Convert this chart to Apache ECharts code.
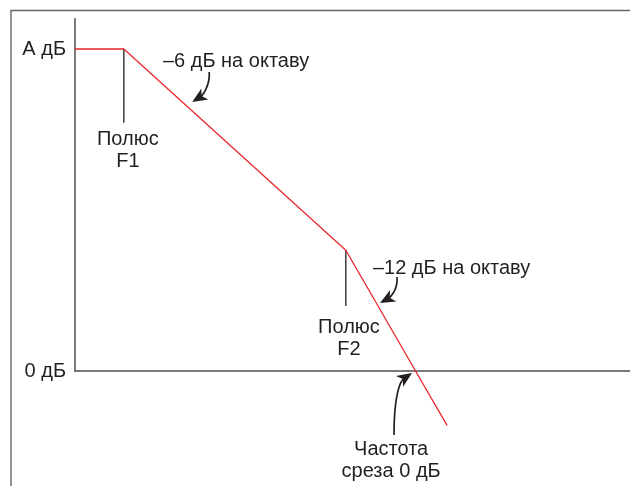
<!DOCTYPE html>
<html>
<head>
<meta charset="utf-8">
<script src="https://cdn.jsdelivr.net/npm/echarts@6/dist/echarts.min.js"></script>
<style>
  html, body { margin: 0; padding: 0; background: #fff; }
  #chart { width: 630px; height: 486px; }
</style>
</head>
<body>
<div id="chart"></div>
<script>
// Asymptotic gain response: x in octaves, y in dB
const gainOctaves = [0, 1.1, 6.1, 7.67, 8.38];
const gainDb      = [48, 48, 18, 0, -8.1];

// Pole markers (octave position, top dB, bottom dB)
const poleOctaves = [1.1, 6.1];
const poleTopDb   = [48, 18];
const poleBotDb   = [37, 9.7];

// Level labels on the gain axis
const levelValues = [0, 48];
const levelLabels = ['0 дБ', 'А дБ'];

const FONT = '20px "Liberation Sans", Arial, sans-serif';
const INK = '#231f20';
const AXIS = '#4d4d4d';
const RED = '#e8262b';

const chart = echarts.init(document.getElementById('chart'), null, { renderer: 'canvas' });

const poleSeries = poleOctaves.map((x, i) => ({
  type: 'line',
  data: [[x, poleTopDb[i]], [x, poleBotDb[i]]],
  symbol: 'none',
  silent: true,
  clip: false,
  lineStyle: { color: INK, width: 1.3 },
  z: 3
}));

chart.setOption({
  animation: false,
  grid: { left: 75, right: 0, top: 18.8, bottom: 115, containLabel: false },
  xAxis: {
    type: 'value', min: 0, max: 12.5,
    axisLine: { show: true, onZero: true, lineStyle: { color: AXIS, width: 1.5 } },
    axisTick: { show: false }, axisLabel: { show: false }, splitLine: { show: false }
  },
  yAxis: {
    type: 'value', min: 0, max: 52.5,
    axisLine: { show: true, lineStyle: { color: AXIS, width: 1.5 } },
    axisTick: { show: false },
    splitLine: { show: false },
    axisLabel: {
      customValues: levelValues,
      margin: 9,
      color: INK,
      fontSize: 20,
      fontFamily: '"Liberation Sans", Arial, sans-serif',
      formatter: v => levelLabels[levelValues.indexOf(v)]
    }
  },
  series: [
    {
      type: 'line',
      data: gainOctaves.map((x, i) => [x, gainDb[i]]),
      symbol: 'none',
      clip: false,
      lineStyle: { color: RED, width: 1.3 },
      z: 4
    },
    ...poleSeries
  ]
});

// Annotation texts, anchored in data space
const notes = [
  { at: [1.19, 32.9], text: 'Полюс\nF1', align: 'center' },
  { at: [1.98, 46.1], text: '–6 дБ на октаву', align: 'left' },
  { at: [6.71, 15.35], text: '–12 дБ на октаву', align: 'left' },
  { at: [6.17, 4.8], text: 'Полюс\nF2', align: 'center' },
  { at: [7.12, -13.4], text: 'Частота\nсреза 0 дБ', align: 'center' }
];

// Curved pointer arrows: tip anchored in data space, path given as pixel offsets from the tip
const arrows = [
  { tip: [2.64, 40.1], path: [[17, -30], [18, -17], [11, -7], [0, 0]] },
  { tip: [6.87, 10.14], path: [[17, -26], [18, -14], [11, -6], [0, 0]] },
  { tip: [7.59, -0.3], path: [[-18, 62], [-18, 22], [-12, 8], [0, 0]] }
];

const graphics = [];

// Outer frame
graphics.push({
  type: 'polyline', silent: true,
  shape: { points: [[11, 486], [11, 10.5], [630, 10.5]] },
  style: { stroke: '#666', lineWidth: 1.4, fill: null }
});

notes.forEach(n => {
  const p = chart.convertToPixel({ gridIndex: 0 }, n.at);
  graphics.push({
    type: 'text', silent: true, x: p[0], y: p[1],
    style: {
      text: n.text, font: FONT, fill: INK,
      align: n.align, verticalAlign: 'middle', lineHeight: 22
    }
  });
});

arrows.forEach(a => {
  const t = chart.convertToPixel({ gridIndex: 0 }, a.tip);
  const pts = a.path.map(d => [t[0] + d[0], t[1] + d[1]]);
  const dx = pts[3][0] - pts[2][0], dy = pts[3][1] - pts[2][1];
  const len = Math.hypot(dx, dy);
  const ux = dx / len, uy = dy / len;
  const headLen = 15, halfW = 6.5;
  const bx = pts[3][0] - ux * headLen, by = pts[3][1] - uy * headLen;
  const nx = -uy, ny = ux;
  // Shaft ends inside the head
  graphics.push({
    type: 'bezierCurve', silent: true,
    shape: {
      x1: pts[0][0], y1: pts[0][1],
      cpx1: pts[1][0], cpy1: pts[1][1],
      cpx2: pts[2][0], cpy2: pts[2][1],
      x2: pts[3][0] - ux * 9, y2: pts[3][1] - uy * 9
    },
    style: { stroke: INK, lineWidth: 1.7, fill: null }
  });
  graphics.push({
    type: 'polygon', silent: true,
    shape: {
      points: [
        [pts[3][0], pts[3][1]],
        [bx + nx * halfW, by + ny * halfW],
        [pts[3][0] - ux * 11, pts[3][1] - uy * 11],
        [bx - nx * halfW, by - ny * halfW]
      ]
    },
    style: { fill: INK }
  });
});

chart.setOption({ graphic: graphics });
</script>
</body>
</html>
